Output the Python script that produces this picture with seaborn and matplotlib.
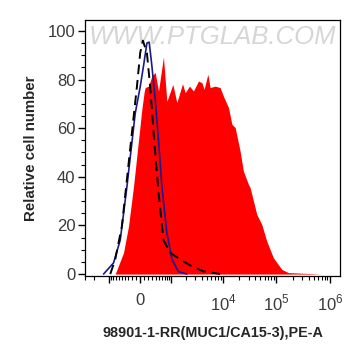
import numpy as np
import pandas as pd
import matplotlib
matplotlib.use("Agg")
import matplotlib.pyplot as plt
import seaborn as sns

# flow histogram, PE-A channel, biexponential-like x axis

# stained sample (red fill)
red_x = [-727, -438, -294, -164, -41, 41, 97, 121, 205, 294, 387, 489, 660, 794,
         1075, 1300, 1690, 1905, 2310, 2750, 3430, 3980, 4390, 5160, 5700, 7080,
         8780, 10100, 12600, 14600, 16800, 20800, 24000, 29800, 32000, 42800,
         53000, 65800, 87500, 126000, 167000, 703000]
red_y = [0, 8.8, 19.7, 36, 55, 68, 75, 76.7, 77.3, 81.5, 82.9, 75.3, 89.3, 71,
         78, 70.5, 78.3, 74.6, 77.3, 75.3, 79.4, 78.7, 76, 82.2, 76.7, 77.3,
         76.7, 73.2, 68.5, 61.6, 60.3, 50.6, 42.3, 36.9, 35.6, 24.5,
         20.4, 13.5, 6.7, 1.9, 0.6, 0]

# blank control (blue line)
blue_x = [-1300, -794, -543, -338, -205, -122, 0, 80, 164, 222, 294, 387, 489,
          603, 794, 1030, 1400, 2060]
blue_y = [0, 4.6, 14, 36, 54, 66, 77, 85.6, 95, 95.4, 85.6, 72, 55,
          36, 17, 6, 1, 0]

# isotype control (black dashed)
dash_x = [-940, -727, -489, -338, -205, -80, 0, 65, 164, 248, 358, 489, 660,
          940, 1520, 2570, 4260, 6570, 8780]
dash_y = [0, 6, 19.7, 39, 58, 77, 91, 96, 91, 77, 55, 33.5, 14,
          8.8, 6, 3.2, 1.1, 0.5, 0]

y_ticks = [0, 20, 40, 60, 80, 100]
x_major = [-1000, 0, 1000, 1e4, 1e5, 1e6]
x_labels = ["", "0", "", "$10^4$", "$10^5$", "$10^6$"]

W = 559.0
def fwd(x):
    return np.arcsinh(np.asarray(x, dtype=float) / W)
def inv(y):
    return W * np.sinh(np.asarray(y, dtype=float))

sns.set_style("ticks")
plt.rcParams["font.family"] = ["Liberation Sans", "DejaVu Sans"]
plt.rcParams["mathtext.fontset"] = "custom"
plt.rcParams["mathtext.rm"] = "Liberation Sans"

fig = plt.figure(figsize=(3.61, 3.56), dpi=100)
ax = fig.add_axes([85 / 361, 80 / 356, 255 / 361, 256 / 356])
ax.set_xscale("function", functions=(fwd, inv))

ax.text(0.5, 0.935, "WWW.PTGLAB.COM", transform=ax.transAxes, ha="center",
        va="center", fontsize=18.5, color="#d6d6d6", style="italic", zorder=0)

ax.fill_between(red_x, red_y, 0, color="#ff0000", lw=0, zorder=2)

blue = pd.DataFrame({"x": blue_x, "y": blue_y})
dash = pd.DataFrame({"x": dash_x, "y": dash_y})
sns.lineplot(data=blue, x="x", y="y", sort=False, estimator=None, ax=ax,
             color="#1a1a8c", lw=1.2, zorder=3)
sns.lineplot(data=dash, x="x", y="y", sort=False, estimator=None, ax=ax,
             color="black", lw=1.4, zorder=4)
ax.lines[-1].set_dashes([5, 3])

ax.set_xlim(-2960, 1.55e6)
ax.set_ylim(-0.8, 104.5)

ax.set_yticks(y_ticks)
ax.set_yticks(np.arange(0, 101, 5), minor=True)
ax.set_xticks(x_major)
ax.set_xticklabels(x_labels)
minor = list(np.arange(-3000, -1000, 1000)) + list(np.arange(-900, 1000, 100))
for d in [1e3, 1e4, 1e5]:
    minor += list(np.arange(2, 10) * d)
ax.set_xticks(minor, minor=True)

ax.tick_params(axis="both", which="major", labelsize=12, labelcolor="#3a3a3a",
               width=1, length=5, color="black")
ax.tick_params(axis="both", which="minor", width=0.8, length=3, color="black")
ax.tick_params(axis="x", which="major", pad=7)
ax.tick_params(axis="y", which="major", pad=2)

for s in ax.spines.values():
    s.set_visible(True)
    s.set_color("black")
    s.set_linewidth(0.9)

ax.set_xlabel("98901-1-RR(MUC1/CA15-3),PE-A", fontsize=10.4, fontweight="bold",
              labelpad=9)
ax.set_ylabel("Relative cell number", fontsize=10.8, fontweight="bold", labelpad=7)

fig.savefig("out.png", dpi=100)
